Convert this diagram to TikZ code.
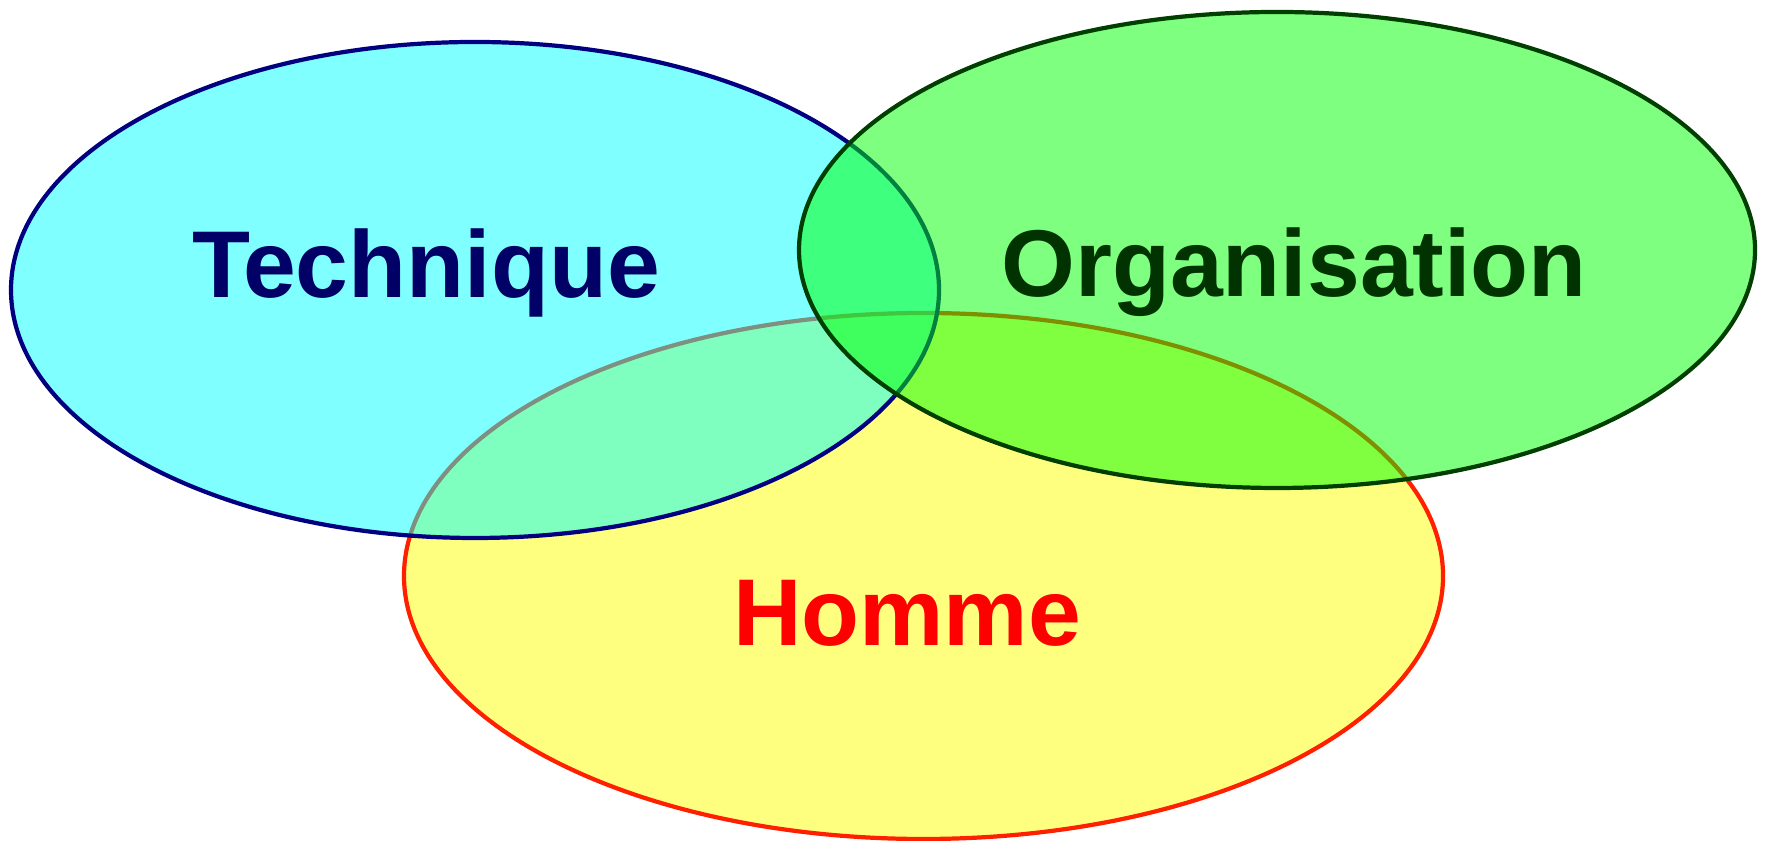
\documentclass[tikz,border=0pt]{standalone}
\usepackage{fontspec}
\setmainfont{Liberation Sans}
\usetikzlibrary{positioning}
\definecolor{techFill}{HTML}{00FFFF}
\definecolor{techLine}{HTML}{000080}
\definecolor{techText}{HTML}{000066}
\definecolor{orgFill}{HTML}{00FF00}
\definecolor{orgLine}{HTML}{003F00}
\definecolor{orgText}{HTML}{003300}
\definecolor{hommeFill}{HTML}{FFFF00}
\definecolor{hommeLine}{HTML}{FF2000}
\definecolor{hommeText}{HTML}{FF0000}
\tikzset{%
  % Specifications for style of the sets:
            venn/.style = {line width=1.2pt, fill opacity=0.5},
    techniqueSet/.style = {venn, draw=techLine, fill=techFill},
 organisationSet/.style = {venn, draw=orgLine, fill=orgFill},
        hommeSet/.style = {venn, draw=hommeLine, fill=hommeFill},
  % Specifications for style of the labels:
           label/.style = {anchor=base, inner sep=0pt,
                           font=\fontsize{27}{32}\selectfont\bfseries},
}
\begin{document}
\begin{tikzpicture}[x=1cm,y=1cm]
\useasboundingbox (0,0) rectangle (17.68,8.41);

% the three sets, drawn from the back
\draw[hommeSet]        (9.235,2.65) ellipse [x radius=5.195, y radius=2.63];
\draw[techniqueSet]    (4.75,5.51)  ellipse [x radius=4.64,  y radius=2.48];
\draw[organisationSet] (12.77,5.91) ellipse [x radius=4.78,  y radius=2.38];

\node (Technique)    [label, text=techText]  at (4.26,5.43)  {Technique};
\node (Organisation) [label, text=orgText]   at (12.94,5.44) {Organisation};
\node (Homme)        [label, text=hommeText] at (9.07,1.95)  {Homme};
\end{tikzpicture}
\end{document}
